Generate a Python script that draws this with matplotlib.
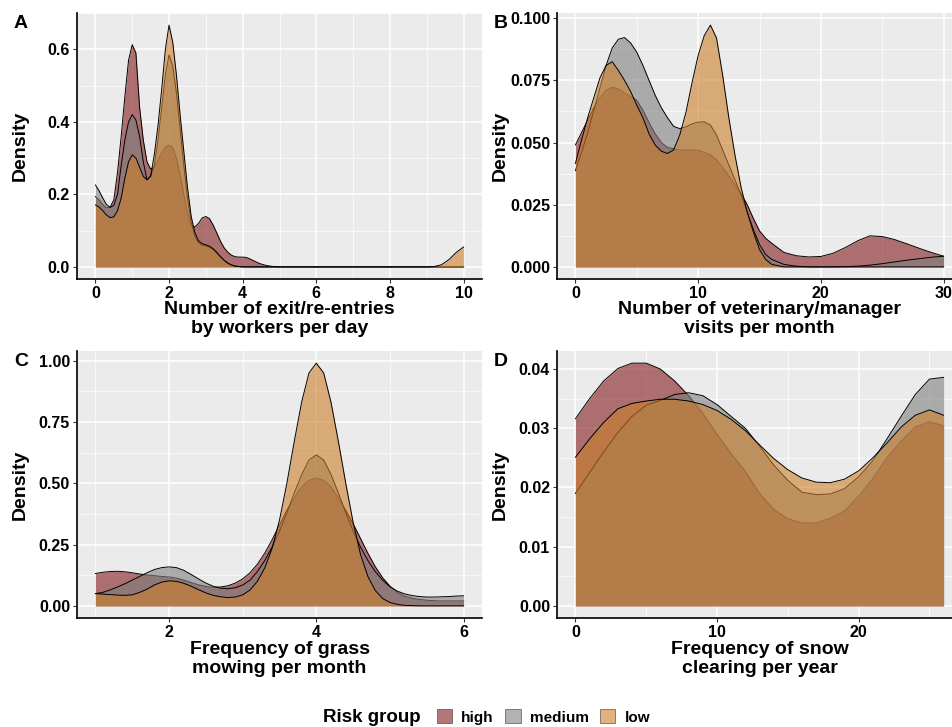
import matplotlib
matplotlib.use("Agg")
import matplotlib.pyplot as plt
from matplotlib.patches import Patch
from matplotlib.ticker import MultipleLocator

plt.rcParams['font.family'] = ['Liberation Sans', 'DejaVu Sans']
plt.rcParams['font.weight'] = 'bold'

groups = ["high", "medium", "low"]
colors = {"high": "#821B1B", "medium": "#7F7F7F", "low": "#CA7F2B"}

# panel A: exit/re-entries by workers per day
xA = [0.0, 0.1, 0.2, 0.3, 0.4, 0.5, 0.6, 0.7, 0.8, 0.9,
      1.0, 1.1, 1.2, 1.3, 1.4, 1.5, 1.6, 1.7, 1.8, 1.9,
      2.0, 2.1, 2.2, 2.3, 2.4, 2.5, 2.6, 2.7, 2.8, 2.9,
      3.0, 3.1, 3.2, 3.3, 3.4, 3.5, 3.6, 3.7, 3.8, 3.9,
      4.0, 4.1, 4.2, 4.3, 4.4, 4.5, 4.6, 4.7, 4.8, 4.9,
      5.0, 6.0, 7.0, 8.0, 9.0, 9.2, 9.4, 9.6, 9.8, 10.0]
highA = [.194, .185, .172, .163, .165, .185, .26, .36, .47, .57,
         .613, .59, .44, .35, .29, .27, .275, .295, .315, .33,
         .336, .33, .30, .255, .20, .15, .115, .11, .12, .135,
         .139, .133, .115, .093, .07, .052, .04, .032, .028, .027,
         .027, .026, .022, .017, .012, .008, .005, .003, .0015, .0007,
         0, 0, 0, 0, 0, 0, 0, 0, 0, 0]
mediumA = [.226, .21, .19, .172, .164, .17, .20, .28, .35, .40,
           .42, .405, .36, .29, .24, .25, .28, .35, .44, .53,
           .585, .555, .48, .38, .28, .19, .125, .085, .067, .06,
           .058, .054, .047, .037, .027, .017, .01, .005, .002, .001,
           0, 0, 0, 0, 0, 0, 0, 0, 0, 0,
           0, 0, 0, 0, 0, 0, 0, 0, 0, 0]
lowA = [.171, .165, .155, .143, .136, .138, .155, .19, .245, .29,
        .309, .30, .275, .25, .24, .25, .31, .39, .49, .60,
        .667, .62, .53, .42, .32, .22, .14, .095, .072, .064,
        .061, .057, .05, .04, .028, .018, .01, .005, .002, .001,
        0, 0, 0, 0, 0, 0, 0, 0, 0, 0,
        0, 0, 0, 0, 0, .001, .006, .02, .04, .055]

# panel B: veterinary/manager visits per month
xB = [0, 0.5, 1, 1.5, 2, 2.5, 3, 3.5, 4, 4.5, 5, 5.5, 6, 6.5, 7, 7.5,
      8, 8.5, 9, 9.5, 10, 10.5, 11, 11.5, 12, 12.5, 13, 13.5, 14, 14.5,
      15, 15.5, 16, 17, 18, 19, 20, 21, 22, 23, 24, 25, 26, 27, 28, 29, 30]
highB = [.049, .054, .059, .064, .068, .071, .0722, .0715, .070, .0685,
         .067, .063, .058, .0535, .050, .048, .0475, .047, .047, .047,
         .0469, .046, .045, .043, .040, .0365, .033, .0295, .025, .0195,
         .0145, .0115, .0095, .0058, .0045, .004, .0042, .0055, .0078, .0105,
         .0125, .0122, .011, .0093, .0075, .0058, .0043]
mediumB = [.0387, .046, .054, .063, .072, .081, .088, .0915, .0922, .090,
           .0863, .081, .075, .069, .064, .060, .0565, .0556, .0563, .0575,
           .0582, .0583, .057, .053, .047, .041, .035, .029, .022, .015,
           .009, .005, .003, .001, .0003, 0, 0, 0, .0001, .0003,
           .0007, .0013, .002, .0027, .0033, .0039, .0043]
lowB = [.0416, .051, .060, .068, .076, .081, .0825, .079, .075, .0705,
        .065, .060, .0535, .049, .0465, .0456, .047, .053, .062, .074,
        .085, .093, .0972, .092, .077, .060, .045, .032, .022, .014,
        .007, .003, .001, 0, 0, 0, 0, 0, 0, 0,
        0, 0, 0, 0, 0, 0, 0]

# panel C: grass mowing per month
xC = [1.0, 1.1, 1.2, 1.3, 1.4, 1.5, 1.6, 1.7, 1.8, 1.9,
      2.0, 2.1, 2.2, 2.3, 2.4, 2.5, 2.6, 2.7, 2.8, 2.9,
      3.0, 3.1, 3.2, 3.3, 3.4, 3.5, 3.6, 3.7, 3.8, 3.9,
      4.0, 4.1, 4.2, 4.3, 4.4, 4.5, 4.6, 4.7, 4.8, 4.9,
      5.0, 5.1, 5.2, 5.3, 5.4, 5.5, 5.6, 5.7, 5.8, 5.9, 6.0]
highC = [.132, .137, .14, .141, .139, .135, .13, .126, .123, .12,
         .118, .113, .105, .095, .086, .079, .076, .077, .082, .093,
         .11, .135, .17, .215, .27, .33, .39, .44, .485, .512,
         .521, .512, .485, .44, .39, .335, .275, .215, .16, .115,
         .08, .055, .04, .031, .026, .023, .021, .02, .02, .02, .02]
mediumC = [.05, .055, .065, .077, .09, .105, .12, .135, .148, .156,
           .159, .156, .145, .128, .11, .093, .08, .072, .07, .074,
           .085, .105, .14, .185, .24, .305, .38, .46, .535, .595,
           .616, .595, .535, .46, .38, .305, .24, .185, .14, .105,
           .078, .06, .049, .042, .038, .036, .036, .037, .038, .04, .041]
lowC = [.05, .048, .046, .044, .043, .045, .055, .068, .085, .097,
        .102, .10, .092, .08, .066, .053, .043, .037, .034, .036,
        .045, .065, .10, .155, .235, .35, .50, .67, .83, .95,
        .99, .95, .83, .67, .50, .34, .21, .12, .063, .03,
        .014, .006, .002, .001, 0, 0, 0, 0, 0, 0, 0]

# panel D: snow clearing per year
xD = list(range(0, 27))
highD = [.0316, .035, .038, .0401, .041, .0410, .0400, .0380, .0355, .0325,
         .029, .0257, .0227, .019, .0163, .0147, .014, .014, .0148, .016,
         .0185, .0215, .025, .0278, .0302, .0311, .0304]
mediumD = [.019, .0225, .026, .0293, .032, .0339, .0347, .0357, .036, .0355,
           .034, .032, .030, .027, .0238, .0212, .0192, .0188, .0189, .0198,
           .0218, .0245, .0282, .032, .0357, .0383, .0386]
lowD = [.0251, .0282, .031, .0333, .0342, .0346, .0349, .0349, .0346, .034,
        .033, .0315, .0296, .0272, .0249, .023, .0216, .0209, .0208, .0214,
        .0228, .025, .0275, .0302, .0322, .0331, .0322]

panels = [
    ("A", xA, {"high": highA, "medium": mediumA, "low": lowA},
     "Number of exit/re-entries\nby workers per day", 2, 1, 0.2, 0.1),
    ("B", xB, {"high": highB, "medium": mediumB, "low": lowB},
     "Number of veterinary/manager\nvisits per month", 10, 5, 0.025, 0.0125),
    ("C", xC, {"high": highC, "medium": mediumC, "low": lowC},
     "Frequency of grass\nmowing per month", 2, 1, 0.25, 0.125),
    ("D", xD, {"high": highD, "medium": mediumD, "low": lowD},
     "Frequency of snow\nclearing per year", 10, 5, 0.01, 0.005),
]
yfmt = {"A": "{:.1f}", "B": "{:.3f}", "C": "{:.2f}", "D": "{:.2f}"}

W, H = 952, 727
fig = plt.figure(figsize=(W / 100, H / 100), dpi=100)
# panel boxes in pixels: left, top, right, bottom
boxes = {"A": (77, 13, 482, 279), "B": (557, 13, 962, 279),
         "C": (77, 351, 482, 618), "D": (557, 351, 962, 618)}

for name, x, ys, xlabel, xmaj, xmin_, ymaj, ymin_ in panels:
    l, t, r, b = boxes[name]
    ax = fig.add_axes([l / W, 1 - b / H, (r - l) / W, (b - t) / H])
    ax.set_facecolor("#EBEBEB")
    for g in groups:
        ax.fill_between(x, ys[g], 0, color=colors[g], alpha=0.6, lw=0, zorder=2)
        ax.plot(x, ys[g], color="black", lw=0.7, zorder=2)
    ymax = max(max(ys[g]) for g in groups)
    xr = x[-1] - x[0]
    ax.set_xlim(x[0] - 0.05 * xr, x[-1] + 0.05 * xr)
    ax.set_ylim(-0.05 * ymax, ymax * 1.05)
    ax.xaxis.set_major_locator(MultipleLocator(xmaj))
    ax.xaxis.set_minor_locator(MultipleLocator(xmin_))
    ax.yaxis.set_major_locator(MultipleLocator(ymaj))
    ax.yaxis.set_minor_locator(MultipleLocator(ymin_))
    ax.yaxis.set_major_formatter(plt.FuncFormatter(
        lambda v, p, f=yfmt[name]: f.format(0.0 if abs(v) < 1e-9 else v)))
    ax.grid(which="major", color="white", lw=1.1, zorder=0)
    ax.grid(which="minor", color="white", lw=0.5, zorder=0)
    ax.set_axisbelow(True)
    for s in ["top", "right"]:
        ax.spines[s].set_visible(False)
    for s in ["left", "bottom"]:
        ax.spines[s].set_color("black")
        ax.spines[s].set_linewidth(1.2)
    ax.tick_params(which="major", length=3, width=0.8, color="#333333",
                   labelsize=11.5, pad=2, labelcolor="black")
    ax.tick_params(which="minor", length=0)
    for lab in ax.get_xticklabels() + ax.get_yticklabels():
        lab.set_fontweight("bold")
    ax.set_xlabel(xlabel, fontsize=14, fontweight="bold", linespacing=1.15)
    ax.xaxis.set_label_coords(0.5, -0.152)
    ax.xaxis.label.set_va("center")
    ax.set_ylabel("Density", fontsize=14, fontweight="bold")
    lx = 20 if l < 300 else 500
    ax.yaxis.set_label_coords((lx - l) / (r - l), 0.5)
    ax.yaxis.label.set_va("center")
    fig.text((lx + 1) / W, 1 - (t + 10) / H, name, fontsize=14, fontweight="bold",
             ha="center", va="center")

fig.text(372 / W, 1 - 717 / H, "Risk group", fontsize=13.5, fontweight="bold",
         ha="center", va="center")
handles = [Patch(facecolor=colors[g], alpha=0.6, edgecolor="black", lw=0.5) for g in groups]
fig.legend(handles, groups, ncol=3, loc="center left",
           bbox_to_anchor=(423 / W, 1 - 717 / H), frameon=False,
           handlelength=1.0, handleheight=1.0, handletextpad=0.6,
           columnspacing=0.75, prop={"weight": "bold", "size": 11})

fig.savefig("out.png", dpi=100)
